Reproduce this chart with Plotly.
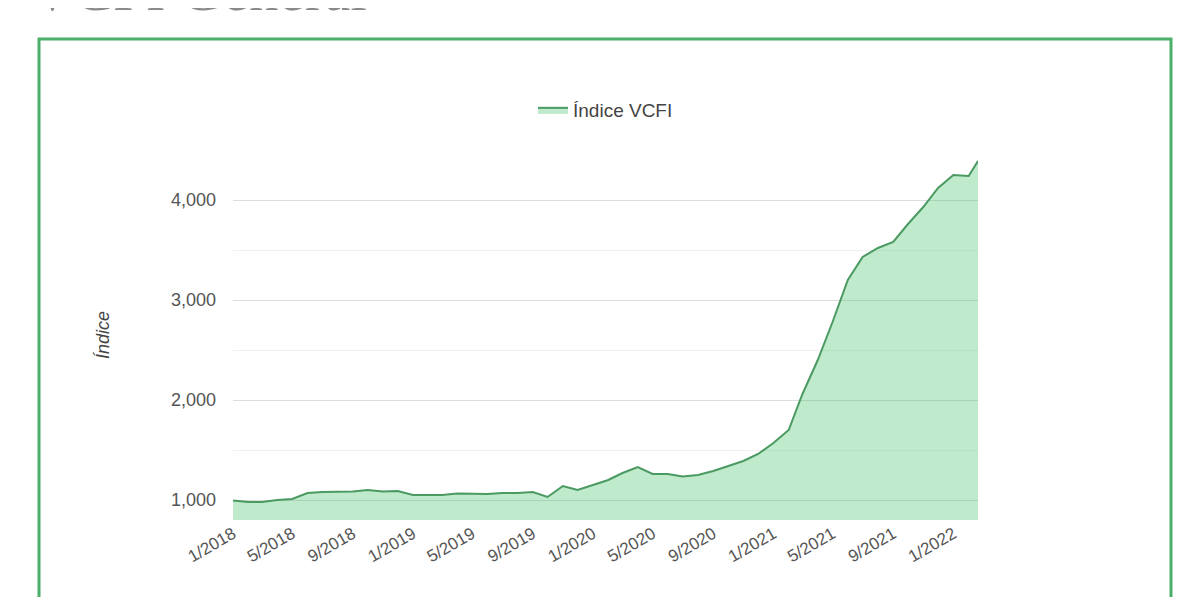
import plotly.graph_objects as go

# Monthly readings of the VCFI index
dates = [
    "2018-01-01", "2018-02-01", "2018-03-01", "2018-04-01", "2018-05-01", "2018-06-01",
    "2018-07-01", "2018-08-01", "2018-09-01", "2018-10-01", "2018-11-01", "2018-12-01",
    "2019-01-01", "2019-02-01", "2019-03-01", "2019-04-01", "2019-05-01", "2019-06-01",
    "2019-07-01", "2019-08-01", "2019-09-01", "2019-10-01", "2019-11-01", "2019-12-01",
    "2020-01-01", "2020-02-01", "2020-03-01", "2020-04-01", "2020-05-01", "2020-06-01",
    "2020-07-01", "2020-08-01", "2020-09-01", "2020-10-01", "2020-11-01", "2020-12-01",
    "2021-01-01", "2021-02-01", "2021-03-01", "2021-04-01", "2021-05-01", "2021-06-01",
    "2021-07-01", "2021-08-01", "2021-09-01", "2021-10-01", "2021-11-01", "2021-12-01",
    "2022-01-01", "2022-02-01", "2022-02-20",
]
values = [
    995, 980, 980, 1000, 1010, 1070,
    1080, 1080, 1085, 1100, 1085, 1090,
    1050, 1050, 1050, 1065, 1065, 1060,
    1070, 1070, 1080, 1030, 1140, 1100,
    1150, 1200, 1270, 1330, 1260, 1260,
    1235, 1250, 1290, 1340, 1390, 1460,
    1570, 1700, 2060, 2400, 2780, 3200,
    3430, 3520, 3580, 3760, 3930, 4120,
    4250, 4240, 4390,
]
series_name = "Índice VCFI"
y_title = "Índice"
chart_title = "VCFI General"

# page offset (body margin) and plot-area pixel geometry in screenshot coordinates
OFF = 8
W, H = 1200, 597
L, R, T, B = 233 - OFF, 978 - OFF, 150 - OFF, 520 - OFF
pw, ph = R - L, B - T

def px(x):
    return (x - OFF - L) / pw

def py(y):
    return (B - (y - OFF)) / ph

fig = go.Figure()
fig.add_trace(go.Scatter(
    x=dates, y=values, name=series_name, mode="lines",
    line=dict(color="#4a9a62", width=2),
    fill="tozeroy", fillcolor="rgba(60,190,100,0.33)",
    showlegend=True,
))

fig.update_layout(
    width=W, height=H,
    margin=dict(l=L, r=W - R, t=T, b=H - B),
    paper_bgcolor="white", plot_bgcolor="white",
    font=dict(family="Arial, Liberation Sans, sans-serif", color="#555", size=17),
    showlegend=True,
    legend=dict(orientation="h", x=0.5, xanchor="center", y=py(110), yanchor="middle",
                font=dict(size=19, color="#444")),
    xaxis=dict(
        type="date", range=[dates[0], dates[-1]],
        tick0="2018-01-01", dtick="M4", tickformat="%-m/%Y", tickangle=-30,
        showgrid=False, zeroline=False, showline=False,
        tickfont=dict(size=17, color="#555"),
    ),
    yaxis=dict(
        range=[800, 4500], dtick=1000, tick0=0, tickformat=",d",
        showgrid=True, gridcolor="#dddddd", gridwidth=1,
        minor=dict(dtick=500, tick0=0, showgrid=True, gridcolor="#f0f0f0"),
        zeroline=False, showline=False,
        ticklabelstandoff=16,
        tickfont=dict(size=18, color="#555"),
    ),
    shapes=[dict(
        type="rect", xref="paper", yref="paper",
        x0=px(39), x1=px(1171), y0=py(640), y1=py(39),
        line=dict(color="#4caf6a", width=3), fillcolor="rgba(0,0,0,0)", layer="below",
    )],
    annotations=[
        dict(text=chart_title, xref="paper", yref="paper", x=px(29), y=py(-10),
             xanchor="left", yanchor="middle", showarrow=False,
             font=dict(family="Liberation Serif, serif", size=59, color="#8a8a8a")),
        dict(text="<i>" + y_title + "</i>", xref="paper", yref="paper", x=px(103), y=py(335),
             xanchor="center", yanchor="middle", textangle=-90, showarrow=False,
             font=dict(size=18, color="#444")),
    ],
)

fig.write_html("out.html")
